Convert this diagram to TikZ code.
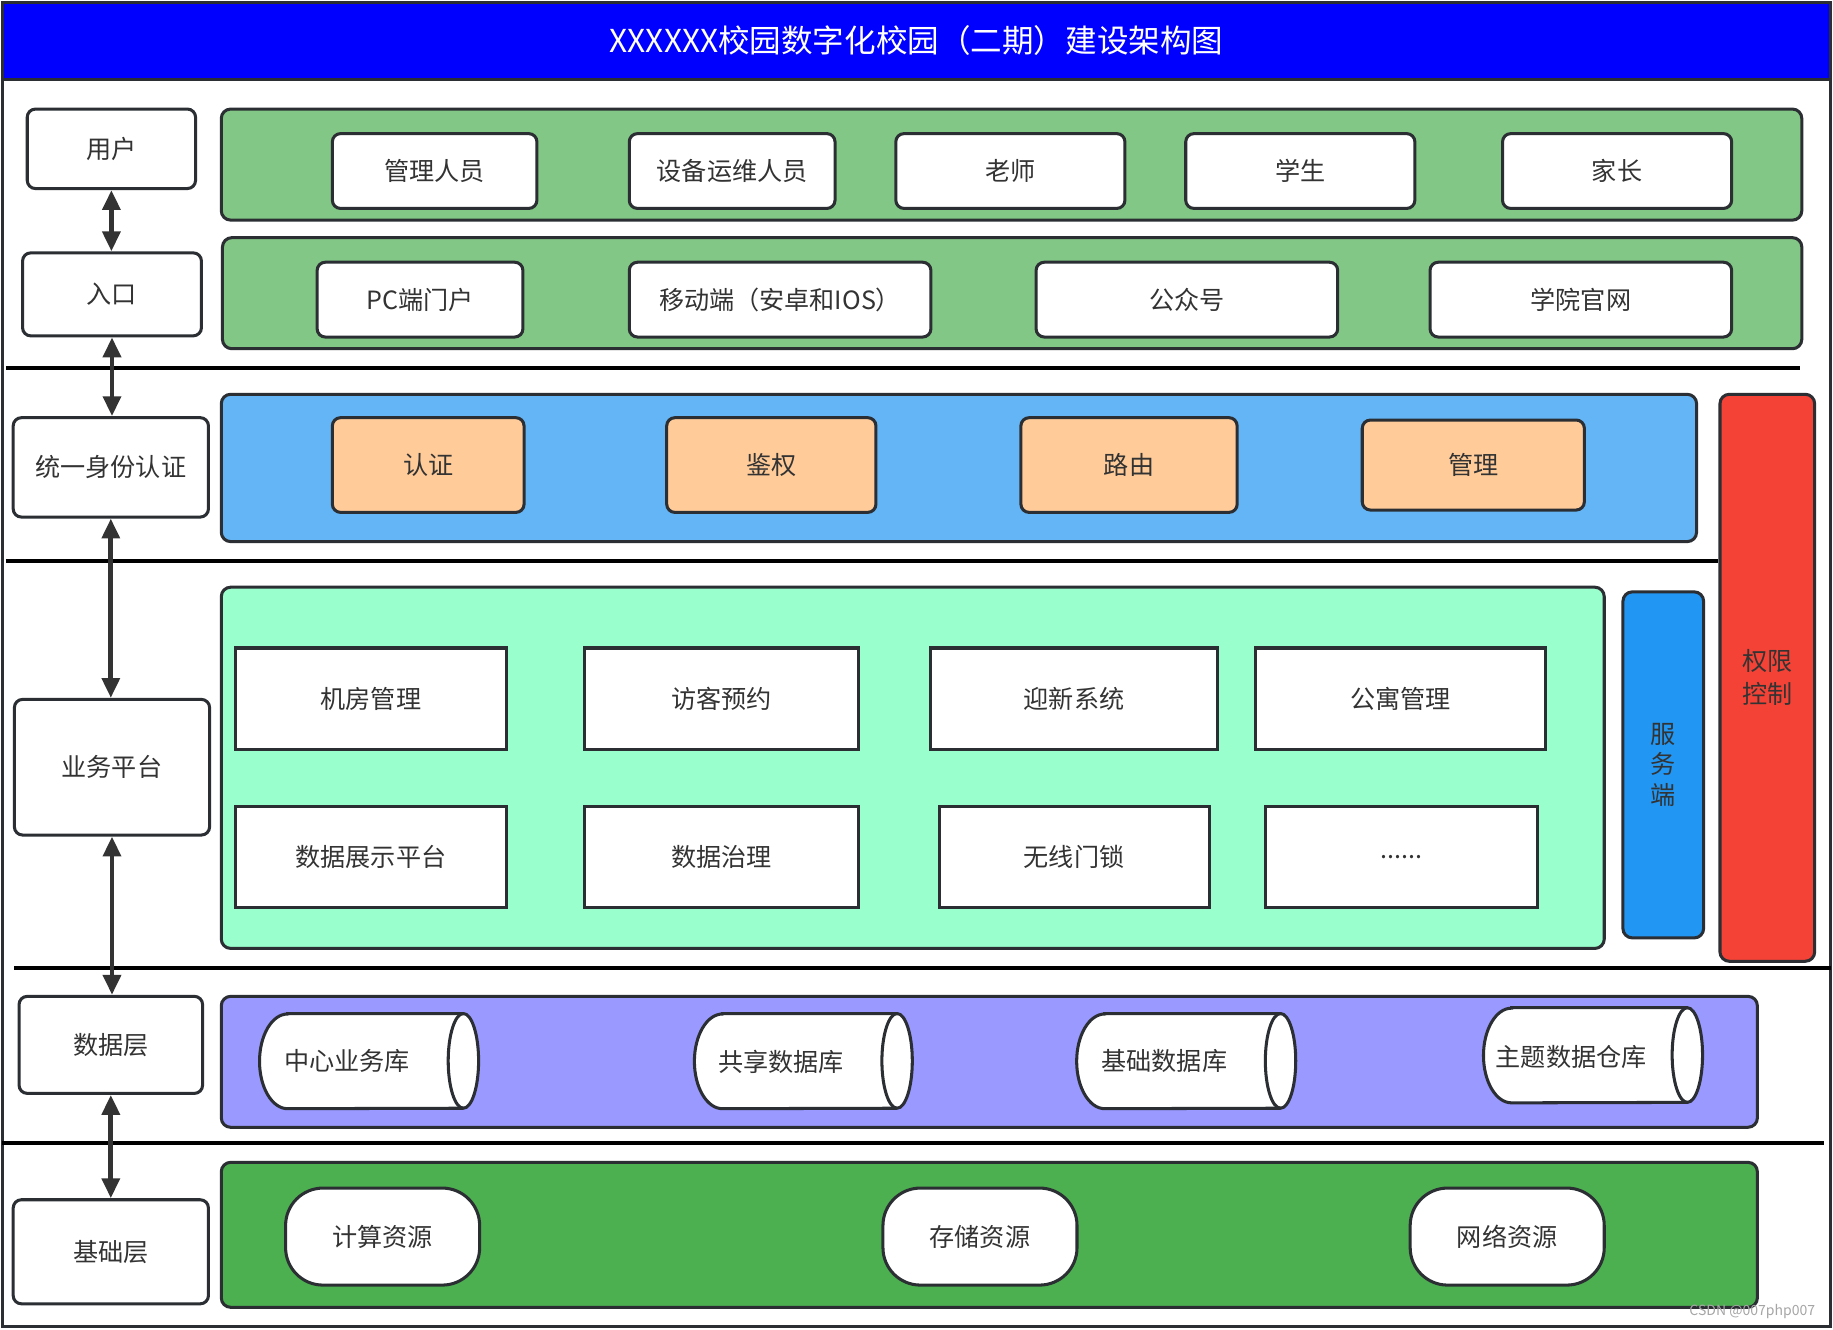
\documentclass[tikz,border=0pt]{standalone}
\usepackage{fontspec}
\newfontfamily\cjk{Noto Sans CJK SC}
\usetikzlibrary{arrows.meta}
\definecolor{bd}{HTML}{2B2F33}
\definecolor{tx}{HTML}{333333}
\definecolor{arr}{HTML}{333333}
\definecolor{gp}{HTML}{82C785}
\definecolor{bp}{HTML}{64B5F6}
\definecolor{orc}{HTML}{FFCC99}
\definecolor{rdc}{HTML}{F44336}
\definecolor{mnc}{HTML}{99FFCC}
\definecolor{svcc}{HTML}{2196F3}
\definecolor{ppc}{HTML}{9999FF}
\definecolor{dgc}{HTML}{4CAF50}
\definecolor{ttl}{HTML}{0000FF}
\newcommand\mycyl[1]{%
 \filldraw[fill=white, draw=bd, line width=2.6pt] ([xshift=24pt]#1.north west) -- ([xshift=-13pt]#1.north east) arc[start angle=90,end angle=-90,x radius=13pt,y radius=40.5pt] -- ([xshift=24pt]#1.south west) arc[start angle=270,end angle=90,x radius=24pt,y radius=40.5pt] -- cycle;
 \draw[bd, line width=2.6pt] ([xshift=-13pt]#1.north east) arc[start angle=90,end angle=270,x radius=13pt,y radius=40.5pt];}
\tikzset{
 txt/.style={text=tx, font=\cjk\fontsize{21.5}{26}\selectfont},
 base/.style={draw=bd, line width=2.6pt, txt, inner sep=0pt},
 bx/.style n args={4}{at={(#1,-#2)}, anchor=north west, minimum width=#3-#1, minimum height=#4-#2},
 lbox/.style={base, fill=white, rounded corners=7pt},
 panel/.style={base, rounded corners=8pt},
 ibox/.style={base, fill=white, rounded corners=7pt},
 obox/.style={base, fill=orc, rounded corners=7pt},
 sbox/.style={base, fill=white},
 cylb/.style={inner sep=0pt},
 cyltext/.style={txt, inner sep=0pt},
 res/.style={base, fill=white, rounded corners=32pt},
 sepline/.style={line width=3.2pt, black},
 link/.style={draw=arr, line width=4pt, {Triangle[length=17pt,width=15pt]}-{Triangle[length=17pt,width=15pt]}},
 ttext/.style={text=white, font=\cjk\fontsize{27}{32}\selectfont, inner sep=0pt},
 wm/.style={text=black!35, font=\cjk\fontsize{12}{14}\selectfont, inner sep=0pt},
}
\begin{document}
\begin{tikzpicture}[x=1pt,y=1pt]
\useasboundingbox (0,0) rectangle (1568,-1137);
\fill[white] (0,0) rectangle (1568,-1137);
% title
\fill[ttl] (2,-2) rectangle (1566,-68);
\draw[bd, line width=3pt] (2,-68) -- (1566,-68);
\draw[bd, line width=2.5pt] (2,-2) rectangle (1566,-1135);
\node[ttext] (title) at (784,-35) {XXXXXX校园数字化校园（二期）建设架构图};
% separators
\draw[sepline] (5,-315) -- (1540,-315);
\draw[sepline] (5,-480) -- (1470,-480);
\draw[sepline] (12,-828) -- (1566,-828);
\draw[sepline] (2,-978) -- (1560,-978);
% left column
\node[lbox, bx={22}{92}{166}{160}] (user) {用户};
\node[lbox, bx={18}{215}{171}{286}] (entry) {入口};
\node[lbox, bx={10}{356}{177}{441}] (auth) {统一身份认证};
\node[lbox, bx={11}{597}{178}{713}] (biz) {业务平台};
\node[lbox, bx={15}{851}{172}{934}] (data) {数据层};
\node[lbox, bx={10}{1025}{177}{1114}] (infra) {基础层};
% panels
\node[panel, fill=gp, bx={188}{92}{1540}{187}] (pusers) {};
\node[panel, fill=gp, bx={189}{202}{1540}{297}] (pentry) {};
\node[panel, fill=bp, bx={188}{336}{1450}{462}] (pauth) {};
\node[panel, fill=rdc, bx={1470}{336}{1551}{821}, align=center, font=\cjk\fontsize{21.5}{28}\selectfont] (perm) {权限\\控制};
\node[panel, fill=mnc, bx={188}{501}{1371}{810}] (pbiz) {};
\node[panel, fill=svcc, bx={1387}{505}{1456}{801}, align=center, font=\cjk\fontsize{21.5}{26}\selectfont] (svc) {服\\务\\端};
\node[panel, fill=ppc, bx={188}{851}{1502}{963}] (pdata) {};
\node[panel, fill=dgc, bx={188}{993}{1502}{1117}] (pinfra) {};
% users row
\node[ibox, bx={283}{113}{458}{177}] (u1) {管理人员};
\node[ibox, bx={537}{113}{713}{177}] (u2) {设备运维人员};
\node[ibox, bx={765}{113}{961}{177}] (u3) {老师};
\node[ibox, bx={1013}{113}{1209}{177}] (u4) {学生};
\node[ibox, bx={1284}{113}{1480}{177}] (u5) {家长};
% entry row
\node[ibox, bx={270}{223}{446}{287}] (e1) {PC端门户};
\node[ibox, bx={537}{223}{795}{287}] (e2) {移动端（安卓和IOS）};
\node[ibox, bx={885}{223}{1143}{287}] (e3) {公众号};
\node[ibox, bx={1222}{223}{1480}{287}] (e4) {学院官网};
% auth row
\node[obox, bx={283}{356}{447}{437}] (a1) {认证};
\node[obox, bx={569}{356}{748}{437}] (a2) {鉴权};
\node[obox, bx={872}{356}{1057}{437}] (a3) {路由};
\node[obox, bx={1164}{358}{1354}{435}] (a4) {管理};
% business
\node[sbox, bx={200}{553}{432}{640}] (b1) {机房管理};
\node[sbox, bx={499}{553}{733}{640}] (b2) {访客预约};
\node[sbox, bx={795}{553}{1040}{640}] (b3) {迎新系统};
\node[sbox, bx={1073}{553}{1321}{640}] (b4) {公寓管理};
\node[sbox, bx={200}{689}{432}{775}] (b5) {数据展示平台};
\node[sbox, bx={499}{689}{733}{775}] (b6) {数据治理};
\node[sbox, bx={802}{689}{1033}{775}] (b7) {无线门锁};
\node[sbox, bx={1081}{689}{1314}{775}] (b8) {......};
% data
\node[cylb, bx={222}{867}{409}{948}] (d1) {};
\mycyl{d1}
\node[cyltext] (d1t) at (297,-908) {中心业务库};
\node[cylb, bx={594}{867}{780}{948}] (d2) {};
\mycyl{d2}
\node[cyltext] (d2t) at (668,-908) {共享数据库};
\node[cylb, bx={921}{867}{1108}{948}] (d3) {};
\mycyl{d3}
\node[cyltext] (d3t) at (996,-908) {基础数据库};
\node[cylb, bx={1269}{862}{1456}{943}] (d4) {};
\mycyl{d4}
\node[cyltext] (d4t) at (1344,-904) {主题数据仓库};
% infrastructure
\node[res, bx={243}{1015}{409}{1098}] (r1) {计算资源};
\node[res, bx={754}{1015}{920}{1098}] (r2) {存储资源};
\node[res, bx={1205}{1015}{1371}{1098}] (r3) {网络资源};
% links
\draw[link] (user.south) -- (user.south |- entry.north);
\draw[link] (entry.south) -- (entry.south |- auth.north);
\draw[link] (auth.south) -- (auth.south |- biz.north);
\draw[link] (biz.south) -- (biz.south |- data.north);
\draw[link] (data.south) -- (data.south |- infra.north);
% watermark
\node[wm] (wmark) at (1499,-1122) {CSDN @007php007};
\end{tikzpicture}
\end{document}
